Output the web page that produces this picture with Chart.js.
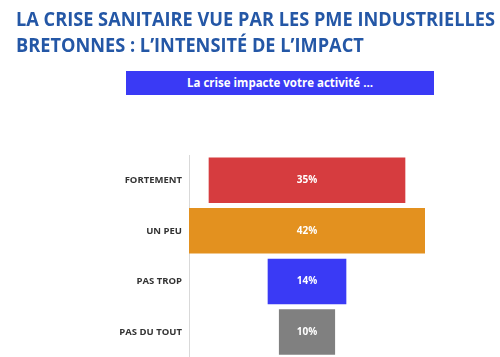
<!DOCTYPE html>
<html><head><meta charset="utf-8">
<script src="https://cdn.jsdelivr.net/npm/chart.js@4/dist/chart.umd.min.js"></script>
<style>
html,body{margin:0;padding:0;background:#fff;}
#wrap{position:relative;width:500px;height:357px;overflow:hidden;}
#title{position:absolute;left:16px;top:6px;font-family:"Open Sans",sans-serif;font-weight:700;font-size:20px;line-height:26px;color:#2457A6;white-space:nowrap;transform-origin:0 0;}
#hdr{position:absolute;left:126px;top:71px;width:308px;height:24px;background:#3A3AF5;color:#fff;font-family:"Open Sans",sans-serif;font-weight:700;font-size:11.5px;line-height:24px;text-align:center;}
canvas{position:absolute;left:0;top:0;}
</style></head>
<body><div id="wrap">
<canvas id="c" width="500" height="370"></canvas>
<div id="title">LA CRISE SANITAIRE VUE PAR LES PME INDUSTRIELLES<br>BRETONNES : L’INTENSITÉ DE L’IMPACT</div>
<div id="hdr">La crise impacte votre activité …</div>
</div>
<script>
const categories = ["FORTEMENT", "UN PEU", "PAS TROP", "PAS DU TOUT"];
const values = [35, 42, 14, 10];
const colors = ["#D63C3F", "#E3911F", "#3A3AF5", "#808080"];

const t = document.getElementById('title');
const w = t.getBoundingClientRect().width;
t.style.transform = 'scaleX(' + (479 / w) + ')';

const labelPlugin = {
  id: 'vals',
  afterDatasetsDraw(chart) {
    const ctx = chart.ctx;
    const meta = chart.getDatasetMeta(0);
    ctx.save();
    ctx.fillStyle = '#fff';
    ctx.font = 'bold 10px "Open Sans", sans-serif';
    ctx.textAlign = 'center';
    ctx.textBaseline = 'middle';
    meta.data.forEach((bar, i) => {
      const xs = chart.scales.x;
      const cx = xs.getPixelForValue(0);
      ctx.fillText(values[i] + '%', cx, bar.y);
    });
    ctx.restore();
  }
};

new Chart(document.getElementById('c'), {
  type: 'bar',
  data: {
    labels: categories,
    datasets: [{
      data: values.map(v => [-v / 2, v / 2]),
      backgroundColor: colors,
      borderWidth: 0,
      barPercentage: 0.9,
      categoryPercentage: 1
    }]
  },
  options: {
    indexAxis: 'y',
    responsive: false,
    animation: false,
    layout: { padding: { top: 155, right: 75, bottom: 1, left: 0 } },
    plugins: { legend: { display: false }, tooltip: { enabled: false } },
    scales: {
      x: { display: false, min: -21, max: 21 },
      y: {
        grid: { display: false, drawTicks: false },
        border: { display: true, color: '#D9D9D9', width: 1 },
        ticks: { color: '#333', font: { family: '"Open Sans", sans-serif', weight: 'bold', size: 9.5 }, padding: 7 },
        afterFit(scale) { scale.width = 189; }
      }
    }
  },
  plugins: [labelPlugin]
});
</script>
</body></html>
